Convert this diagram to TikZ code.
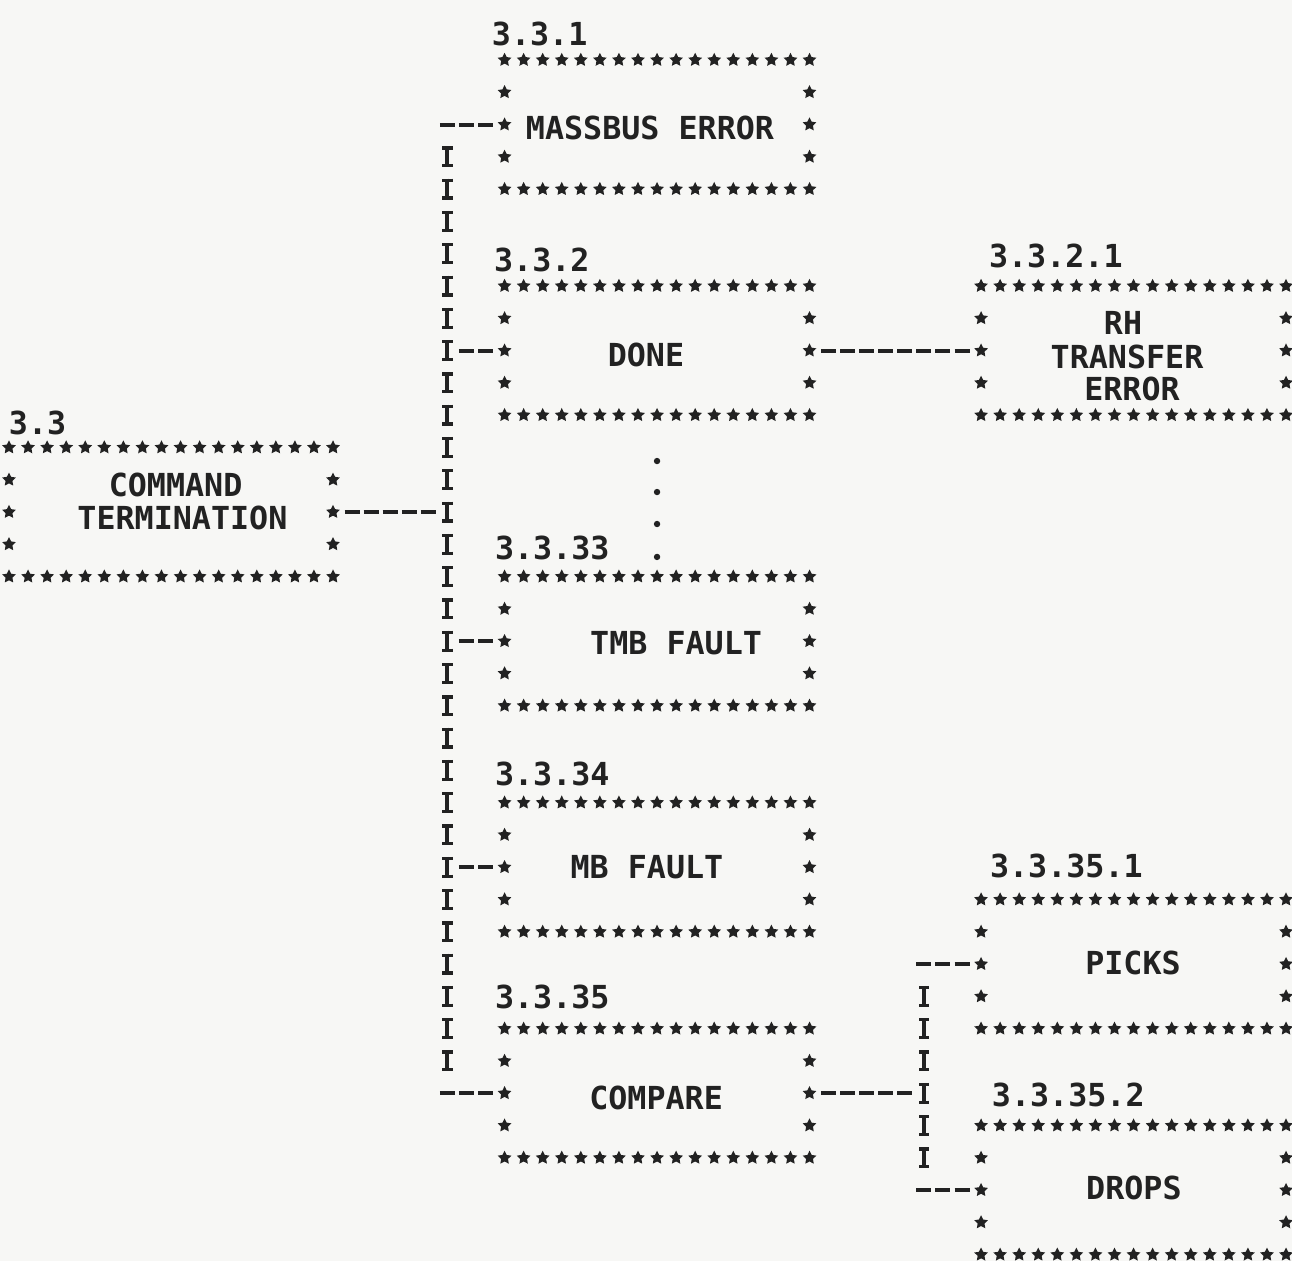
\documentclass[tikz,border=0pt]{standalone}
\usepackage{fontspec}
\newfontfamily\monofont{DejaVu Sans Mono}
\definecolor{ink}{HTML}{222222}
\definecolor{paper}{HTML}{F7F7F5}
\tikzset{
  starglyph/.pic={\fill[ink] (90:7.2pt) -- (126:3.6pt) -- (162:7.2pt) -- (198:3.6pt) -- (234:7.2pt) -- (270:3.6pt) -- (306:7.2pt) -- (342:3.6pt) -- (18:7.2pt) -- (54:3.6pt) -- cycle;},
  boxnode/.style={rectangle, inner sep=0pt, outer sep=0pt, minimum width=304.96pt, minimum height=129.16pt},
  widebox/.style={boxnode, minimum width=324.02pt},
  txt/.style={font=\monofont\bfseries\fontsize{31.7pt}{32.29pt}\selectfont, text=ink, inner sep=0pt, outer sep=0pt},
  lbl/.style={txt, anchor=west},
  hconn/.style={draw=ink, line width=4pt, dash pattern=on 15pt off 4.06pt, dash phase=17.03pt},
  bothends/.style={shorten <=9.53pt, shorten >=9.53pt},
  cornerend/.style={shorten <=-9.53pt, shorten >=9.53pt},
  ibar/.style={draw=ink, line width=4.2pt, dash pattern=on 21pt off 11.29pt, dash phase=26.645pt,
     shorten <=16.145pt, shorten >=16.145pt,
     postaction={draw=ink, line width=10.5pt, shorten <=16.145pt, shorten >=16.145pt,
       dash pattern=on 3.2pt off 14.6pt on 3.2pt off 11.29pt, dash phase=26.645pt}},
}
\newcommand\drawstarbox[2]{%
  \foreach \i in {0,...,#2} {
    \path (#1.north west) ++(\i,0) pic {starglyph};
    \path (#1.south west) ++(\i,0) pic {starglyph};
  }
  \foreach \j in {1,2,3} {
    \path (#1.north west) ++(0,\j) pic {starglyph};
    \path (#1.north east) ++(0,\j) pic {starglyph};
  }
}
\begin{document}
\begin{tikzpicture}[x=19.06pt, y=-32.29pt]
\fill[paper] (0pt,0pt) rectangle (1292pt,-1261pt);
\useasboundingbox (0pt,0pt) rectangle (1292pt,-1261pt);
\begin{scope}[shift={(9pt,-27.7pt)}]
% boxes
\node[boxnode] (b331) at (34,3) {};
\node[boxnode] (b332) at (34,10) {};
\node[boxnode] (b3333) at (34,19) {};
\node[boxnode] (b3334) at (34,26) {};
\node[boxnode] (b3335) at (34,33) {};
\node[widebox] (b33) at (8.5,15) {};
\node[boxnode] (b3321) at (59,10) {};
\node[boxnode] (b33351) at (59,29) {};
\node[boxnode] (b33352) at (59,36) {};
\drawstarbox{b331}{16}
\drawstarbox{b332}{16}
\drawstarbox{b3333}{16}
\drawstarbox{b3334}{16}
\drawstarbox{b3335}{16}
\drawstarbox{b33}{17}
\drawstarbox{b3321}{16}
\drawstarbox{b33351}{16}
\drawstarbox{b33352}{16}
% box texts
\node[txt] (t331) at (33.63,3.1) {MASSBUS ERROR};
\node[txt] (t332) at (33.42,10.15) {DONE};
\node[txt] (t3333) at (35.0,19.05) {TMB FAULT};
\node[txt] (t3334) at (33.47,26) {MB FAULT};
\node[txt] (t3335) at (33.95,33.15) {COMPARE};
\node[txt] (t33a) at (8.74,14.16) {COMMAND};
\node[txt] (t33b) at (9.10,15.18) {TERMINATION};
\node[txt] (t3321a) at (58.45,9.15) {RH};
\node[txt] (t3321b) at (58.66,10.2) {TRANSFER};
\node[txt] (t3321c) at (58.92,11.2) {ERROR};
\node[txt] (t33351) at (58.97,28.97) {PICKS};
\node[txt] (t33352) at (59.02,35.93) {DROPS};
% labels
\node[lbl] (l331) at (25.34,0.2) {3.3.1};
\node[lbl] (l332) at (25.45,7.19) {3.3.2};
\node[lbl] (l33) at (0,12.24) {3.3};
\node[lbl] (l3321) at (51.42,7.07) {3.3.2.1};
\node[lbl] (l3333) at (25.5,16.11) {3.3.33};
\node[lbl] (l3334) at (25.5,23.11) {3.3.34};
\node[lbl] (l3335) at (25.5,30.02) {3.3.35};
\node[lbl] (l33351) at (51.47,25.96) {3.3.35.1};
\node[lbl] (l33352) at (51.57,33.05) {3.3.35.2};
% continuation dots
\foreach \r in {13.42,14.38,15.37,16.39} \fill[ink] (34,\r) circle (3.2pt);
% junctions
\coordinate (j3) at (23,3);
\coordinate (j10) at (23,10);
\coordinate (j15) at (23,15);
\coordinate (j19) at (23,19);
\coordinate (j26) at (23,26);
\coordinate (j33) at (23,33);
\coordinate (k29) at (48,29);
\coordinate (k33) at (48,33);
\coordinate (k36) at (48,36);
% connectors
\draw[ibar] (j3) -- (j33);
\draw[ibar] (k29) -- (k36);
\draw[hconn, bothends] (b33.east) -- (j15);
\draw[hconn, cornerend] (j3) -- (b331.west);
\draw[hconn, bothends] (j10) -- (b332.west);
\draw[hconn, bothends] (j19) -- (b3333.west);
\draw[hconn, bothends] (j26) -- (b3334.west);
\draw[hconn, cornerend] (j33) -- (b3335.west);
\draw[hconn, bothends] (b332.east) -- (b3321.west);
\draw[hconn, bothends] (b3335.east) -- (k33);
\draw[hconn, cornerend] (k29) -- (b33351.west);
\draw[hconn, cornerend] (k36) -- (b33352.west);
\end{scope}
\end{tikzpicture}
\end{document}
